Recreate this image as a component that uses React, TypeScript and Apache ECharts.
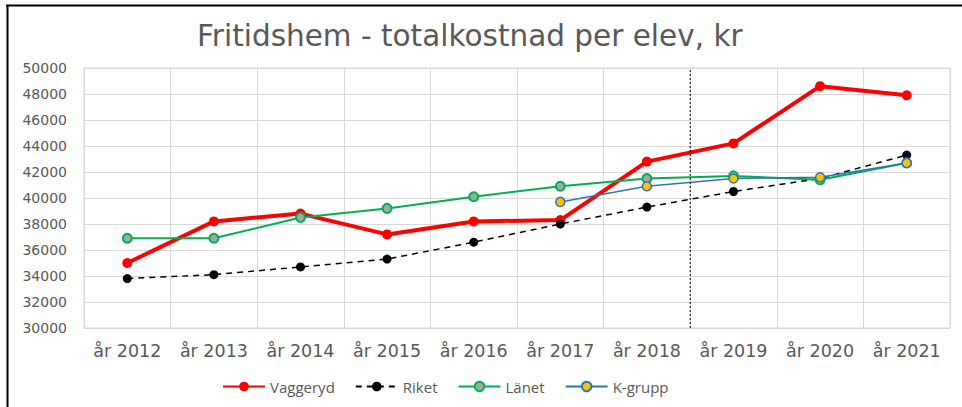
import React, { useEffect, useRef } from "react";
import * as echarts from "echarts";

const categories = ["år 2012", "år 2013", "år 2014", "år 2015", "år 2016", "år 2017", "år 2018", "år 2019", "år 2020", "år 2021"];
const vaggeryd = [35000, 38200, 38800, 37200, 38200, 38300, 42800, 44200, 48600, 47900];
const riket = [33800, 34100, 34700, 35300, 36600, 38000, 39300, 40500, 41500, 43300];
const lanet = [36900, 36900, 38500, 39200, 40100, 40900, 41500, 41700, 41400, 42700];
const kgrupp = [null, null, null, null, null, 39700, 40900, 41500, 41600, 42700];
const yMin = 30000;
const yMax = 50000;
const yInterval = 2000;
const dividerAt = 6.5; // between år 2018 and år 2019
const seriesNames = ["Vaggeryd", "Riket", "Länet", "K-grupp"];
const titleText = "Fritidshem - totalkostnad per elev, kr";

export default function App() {
  const ref = useRef<HTMLDivElement>(null);
  useEffect(() => {
    document.body.style.margin = "0";
    const chart = echarts.init(ref.current!, null, { renderer: "svg" });
    const font = "DejaVu Sans";
    chart.setOption({
      animation: false,
      backgroundColor: "#ffffff",
      title: {
        text: titleText,
        left: 192,
        top: 16,
        textStyle: { fontFamily: font, fontSize: 29.5, fontWeight: "normal", color: "#595959" },
      },
      graphic: [
        { type: "line", shape: { x1: 6, y1: 5.5, x2: 962, y2: 5.5 }, style: { stroke: "#000", lineWidth: 2 } },
        { type: "line", shape: { x1: 7.5, y1: 5, x2: 7.5, y2: 407 }, style: { stroke: "#000", lineWidth: 2 } },
      ],
      legend: {
        data: seriesNames,
        left: 217,
        top: 374,
        itemWidth: 42,
        itemHeight: 12,
        itemGap: 20,
        textStyle: { fontFamily: "Open Sans", fontSize: 15, color: "#595959" },
      },
      grid: {
        left: 84,
        right: 12,
        top: 68,
        bottom: 79,
        show: true,
        borderColor: "#D9D9D9",
        borderWidth: 1,
      },
      xAxis: [
        {
          type: "category",
          data: categories,
          boundaryGap: true,
          axisLine: { show: true, lineStyle: { color: "#D9D9D9" } },
          axisTick: { show: false },
          splitLine: { show: true, lineStyle: { color: "#D9D9D9", width: 1 } },
          axisLabel: { fontFamily: font, fontSize: 17.5, color: "#595959", margin: 14, interval: 0 },
        },
        {
          type: "value",
          min: -0.5,
          max: 9.5,
          show: false,
        },
      ],
      yAxis: {
        type: "value",
        min: yMin,
        max: yMax,
        interval: yInterval,
        axisLine: { show: false },
        axisTick: { show: false },
        splitLine: { lineStyle: { color: "#D9D9D9", width: 1 } },
        axisLabel: {
          fontFamily: font,
          fontSize: 14,
          color: "#595959",
          margin: 17,
          formatter: (v: number) => String(v),
        },
      },
      series: [
        {
          name: "Vaggeryd",
          type: "line",
          data: vaggeryd,
          symbol: "circle",
          symbolSize: 10,
          lineStyle: { color: "#FF0000", width: 4 },
          itemStyle: { color: "#FF0000" },
        },
        {
          name: "Riket",
          type: "line",
          data: riket,
          symbol: "circle",
          symbolSize: 9,
          lineStyle: { color: "#000000", width: 1.5, type: [6, 5] },
          itemStyle: { color: "#000000" },
        },
        {
          name: "Länet",
          type: "line",
          data: lanet,
          symbol: "circle",
          symbolSize: 9,
          lineStyle: { color: "#00B050", width: 2 },
          itemStyle: { color: "#A5A5A5", borderColor: "#00B050", borderWidth: 2 },
        },
        {
          name: "K-grupp",
          type: "line",
          data: kgrupp,
          symbol: "circle",
          symbolSize: 9,
          lineStyle: { color: "#2E75B6", width: 1.5 },
          itemStyle: { color: "#FFC000", borderColor: "#2E75B6", borderWidth: 1.5 },
        },
        {
          name: "divider",
          type: "line",
          xAxisIndex: 1,
          data: [[dividerAt, yMin], [dividerAt, yMax]],
          symbol: "none",
          silent: true,
          lineStyle: { color: "#000000", width: 1, type: [2, 2] },
        },
      ],
    });
    return () => chart.dispose();
  }, []);
  return <div ref={ref} style={{ width: 962, height: 407 }} />;
}
